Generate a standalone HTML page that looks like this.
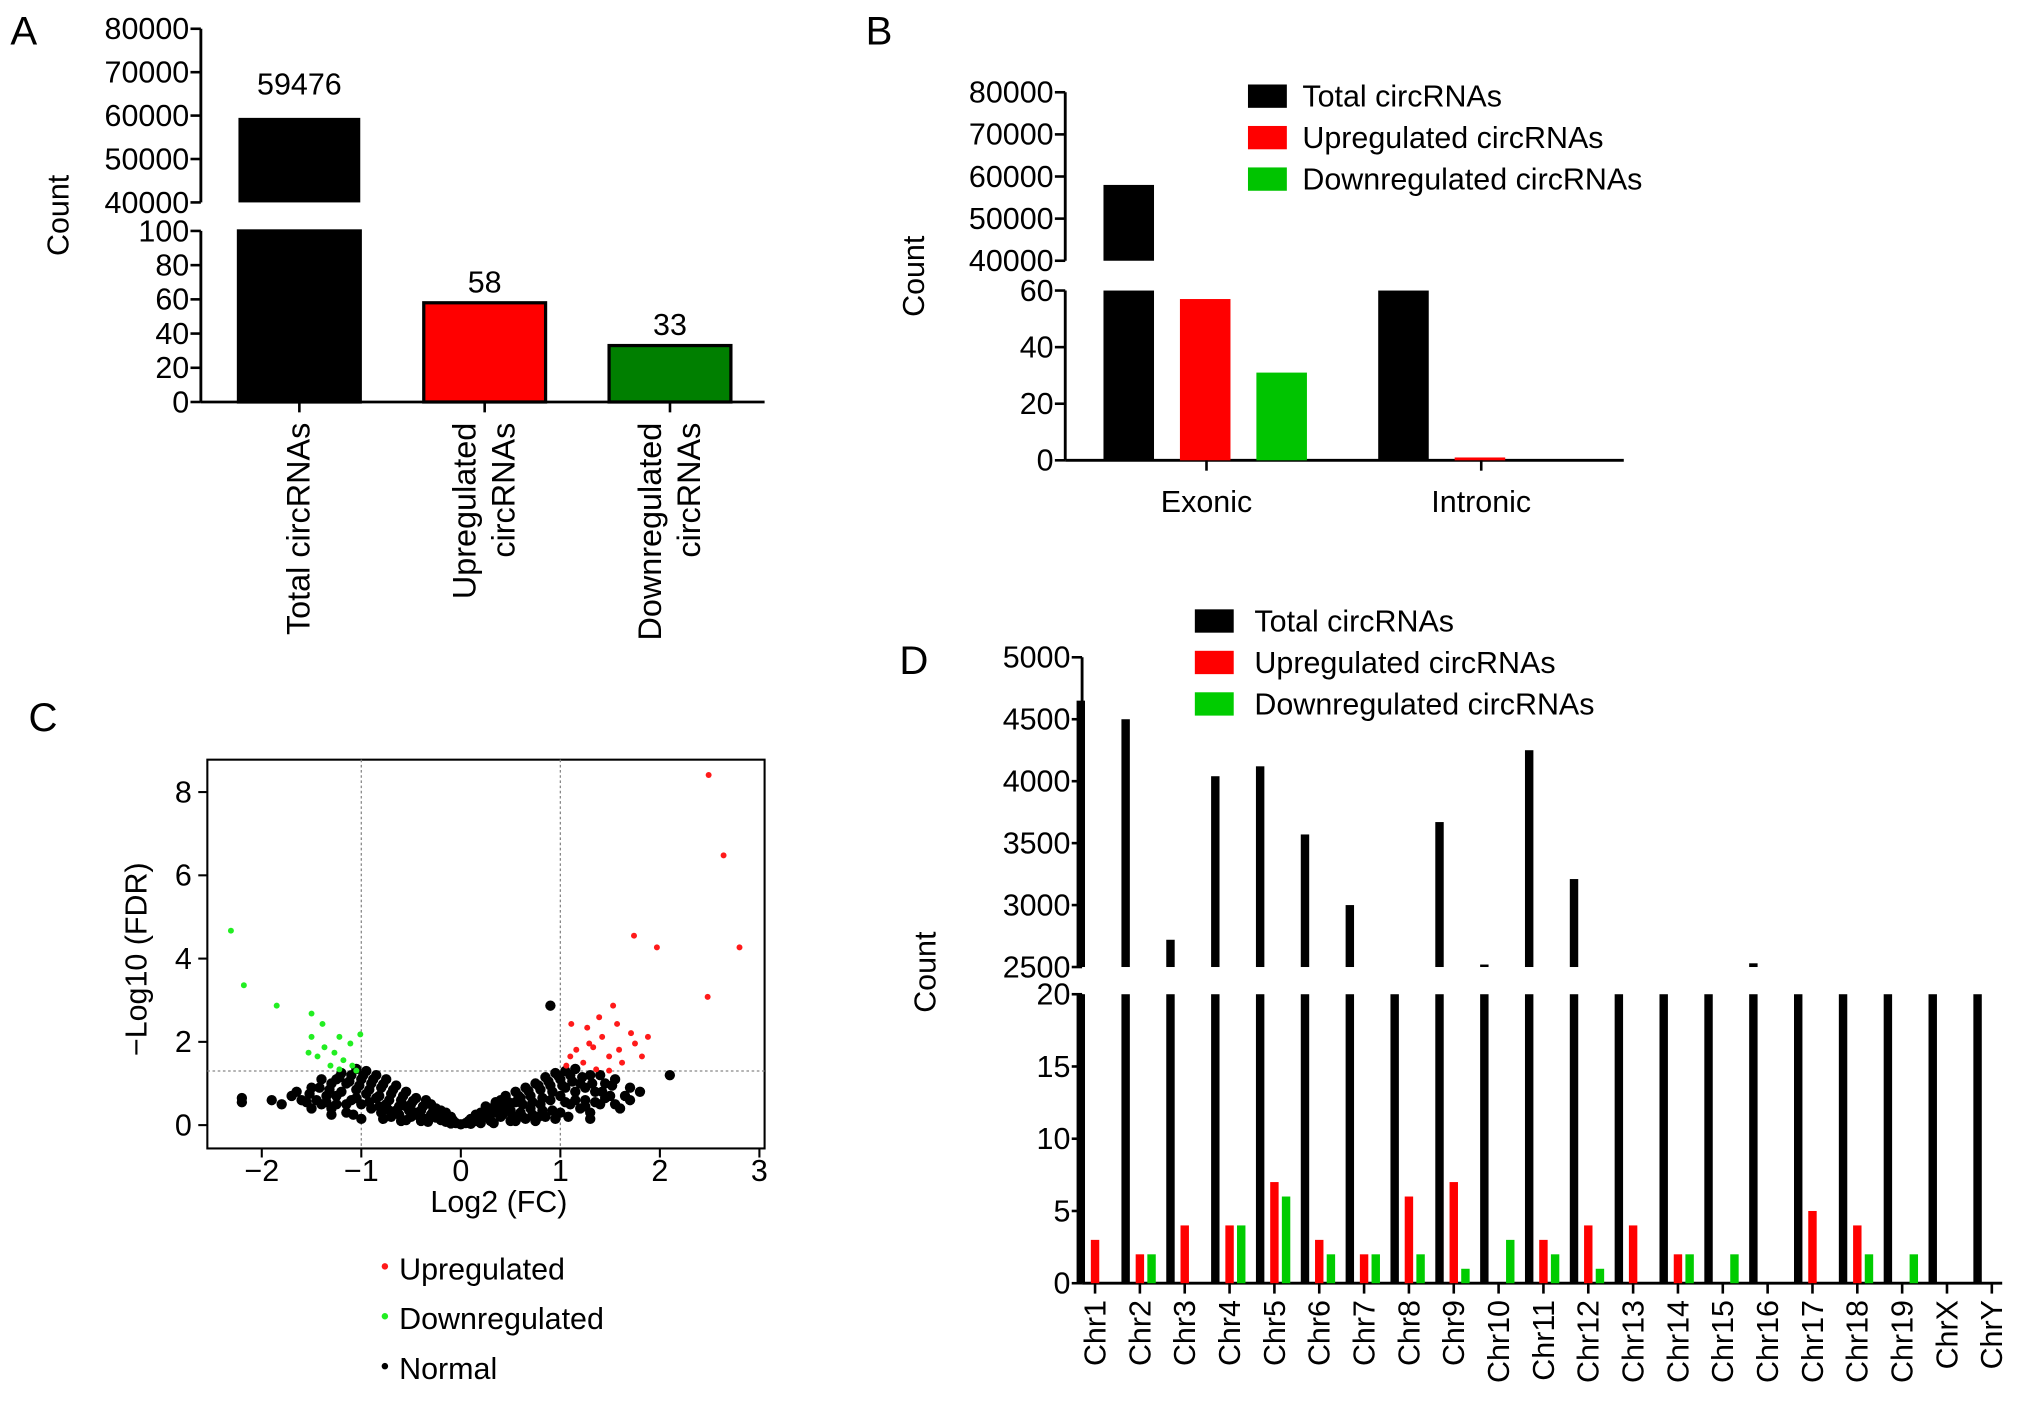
<!DOCTYPE html>
<html><head><meta charset="utf-8"><style>
html,body{margin:0;padding:0;background:#fff;}
svg{display:block;font-family:"Liberation Sans",Arial,sans-serif;}
</style></head><body>
<svg id="fig" width="2032" height="1404" viewBox="0 0 1568 1083" xmlns="http://www.w3.org/2000/svg">
<g font-size="31" fill="#000">
<text x="8" y="34">A</text>
<text x="668" y="34">B</text>
<text x="22" y="564">C</text>
<text x="694" y="520">D</text>
</g>
<g id="pa"></g>
<g id="pb"></g>
<g id="pc"></g>
<g id="pd"></g>
</svg>
<script>
// ---------- Panel A data ----------
const aCategories = [["Total circRNAs"],["Upregulated","circRNAs"],["Downregulated","circRNAs"]];
const aValues = [59476, 58, 33];
const aColors = ["#000000","#ff0000","#007f00"];
const aUpperTicks = [40000,50000,60000,70000,80000];
const aLowerTicks = [0,20,40,60,80,100];
// ---------- Panel B data ----------
const bCategories = ["Exonic","Intronic"];
const bTotal = [58000, 62];
const bUp = [57, 1];
const bDown = [31, 0];
const bUpperTicks = [40000,50000,60000,70000,80000];
const bLowerTicks = [0,20,40,60];
const seriesNames = ["Total circRNAs","Upregulated circRNAs","Downregulated circRNAs"];
// ---------- Panel C data ----------
const cXTicks = [-2,-1,0,1,2,3];
const cYTicks = [0,2,4,6,8];
const cUp = [[2.49,8.41],[2.64,6.48],[2.80,4.27],[1.74,4.55],[1.97,4.27],[2.48,3.08],[1.53,2.87],[1.39,2.59],[1.27,2.34],[1.11,2.43],[1.88,2.12],[1.75,1.96],[1.59,1.81],[1.42,2.12],[1.29,1.96],[1.16,1.81],[1.10,1.65],[1.49,1.65],[1.62,1.50],[1.82,1.65],[1.06,1.43],[1.23,1.50],[1.36,1.34],[1.49,1.31],[1.71,2.21],[1.57,2.43],[1.33,1.87]];
const cDown = [[-2.31,4.67],[-2.18,3.36],[-1.85,2.87],[-1.5,2.68],[-1.39,2.43],[-1.01,2.18],[-1.22,2.12],[-1.5,2.12],[-1.11,1.96],[-1.37,1.87],[-1.27,1.74],[-1.44,1.65],[-1.18,1.56],[-1.31,1.43],[-1.09,1.43],[-1.22,1.34],[-1.05,1.31],[-1.53,1.74]];
const cNormal = [[0,0.02],[0.05,0.05],[-0.05,0.05],[0.1,0.03],[-0.1,0.04],[0.15,0.1],[-0.15,0.08],[0.2,0.05],[-0.2,0.12],[0.25,0.2],[-0.25,0.18],[0.3,0.1],[-0.3,0.25],[0.35,0.3],[-0.35,0.15],[0.4,0.2],[-0.4,0.35],[0.45,0.45],[-0.45,0.3],[0.5,0.1],[-0.5,0.5],[0.5,0.35],[-0.5,0.2],[0.55,0.55],[-0.55,0.45],[0.6,0.3],[-0.6,0.6],[0.6,0.65],[-0.6,0.1],[0.65,0.15],[-0.65,0.35],[0.7,0.7],[-0.7,0.75],[0.7,0.4],[-0.7,0.2],[0.75,0.1],[-0.75,0.5],[0.8,0.85],[-0.8,0.9],[0.8,0.5],[-0.8,0.3],[0.85,0.2],[-0.85,0.65],[0.9,0.95],[-0.9,1.0],[0.9,0.6],[-0.9,0.4],[0.95,0.15],[-0.95,0.75],[1.0,1.1],[-1.0,1.1],[1.0,0.7],[-1.0,0.5],[1.0,0.3],[-1.0,0.15],[1.05,0.9],[-1.05,0.85],[1.1,1.2],[-1.1,1.2],[1.1,0.5],[-1.1,0.6],[1.15,0.8],[-1.15,0.3],[1.2,1.0],[-1.2,1.25],[1.2,0.4],[-1.2,0.8],[1.25,0.6],[-1.25,0.5],[1.3,1.2],[-1.3,1.0],[1.3,0.3],[-1.3,0.4],[1.35,0.8],[-1.35,0.7],[1.4,0.5],[-1.4,0.5],[1.45,1.0],[-1.5,0.9],[1.5,0.7],[-1.6,0.6],[1.6,0.4],[-1.7,0.7],[1.7,0.9],[-1.9,0.6],[2.1,1.2],[-2.2,0.65],[-2.2,0.55],[0.9,2.87],[0.3,0.4],[-0.3,0.5],[0.4,0.6],[-0.4,0.1],[0.2,0.3],[-0.2,0.35],[0.1,0.15],[-0.1,0.2],[0.65,0.9],[-0.65,0.95],[0.75,1.0],[-0.75,1.1],[0.85,1.15],[-0.85,1.2],[0.95,1.25],[-0.95,1.3],[1.05,1.3],[-1.05,1.35],[1.15,1.35],[-1.15,1.0],[0.55,0.8],[-0.55,0.8],[0.45,0.7],[-0.45,0.65],[1.25,0.9],[-1.25,1.1],[1.4,1.2],[-1.4,1.1],[1.55,1.1],[-1.5,0.4],[1.65,0.7],[0.35,0.55],[-0.35,0.6],[0.25,0.45],[-0.25,0.4],[0.15,0.25],[-0.15,0.3],
[0.08,0.1],[-0.08,0.12],[0.18,0.18],[-0.18,0.2],[0.28,0.3],[-0.28,0.32],[0.38,0.42],[-0.38,0.45],[0.48,0.55],[-0.48,0.58],[0.58,0.7],[-0.58,0.7],[0.68,0.82],[-0.68,0.85],[0.78,0.95],[-0.78,0.98],[0.88,1.05],[-0.88,1.1],[0.98,1.18],[-0.98,1.2],[0.62,0.5],[-0.62,0.45],[0.72,0.55],[-0.72,0.6],[0.82,0.65],[-0.82,0.7],[0.92,0.8],[-0.92,0.85],[1.02,0.95],[-1.02,0.95],[1.12,1.05],[-1.12,1.05],[1.22,1.15],[-1.22,1.15],[1.32,1.0],[-1.32,0.85],[1.42,0.8],[-1.42,0.9],[1.52,0.95],[-1.52,0.75],[0.42,0.25],[-0.42,0.22],[0.52,0.22],[-0.52,0.35],[0.62,0.2],[-0.62,0.25],[0.72,0.25],[-0.72,0.35],[0.82,0.35],[-0.82,0.45],[0.92,0.35],[-0.92,0.55],[1.05,0.55],[-1.05,0.65],[1.15,0.6],[-1.15,0.5],[1.25,0.45],[-1.25,0.7],[1.35,0.55],[-1.35,0.55],[1.45,0.65],[-1.45,0.6],[1.55,0.5],[-1.55,0.55],[1.7,0.6],[-1.65,0.8],[1.8,0.8],[-1.8,0.5],[0.33,0.05],[-0.33,0.08],[0.55,0.1],[-0.55,0.12],[0.78,0.2],[-0.78,0.15],[1.08,0.2],[-1.08,0.25],[1.3,0.15],[-1.3,0.25]];
// ---------- Panel D data ----------
const dCategories = ["Chr1","Chr2","Chr3","Chr4","Chr5","Chr6","Chr7","Chr8","Chr9","Chr10","Chr11","Chr12","Chr13","Chr14","Chr15","Chr16","Chr17","Chr18","Chr19","ChrX","ChrY"];
const dTotal = [4650,4500,2720,4040,4120,3570,3000,2000,3670,2520,4250,3210,1800,1900,1700,2530,1600,1500,1400,900,60];
const dUp = [3,2,4,4,7,3,2,6,7,0,3,4,4,2,0,0,5,4,0,0,0];
const dDown = [0,2,0,4,6,2,2,2,1,3,2,1,0,2,2,0,0,2,2,0,0];
const dUpperTicks = [2500,3000,3500,4000,4500,5000];
const dLowerTicks = [0,5,10,15,20];

const NS="http://www.w3.org/2000/svg";
const FS=23.5;
function mk(parent,tag,attrs,text){const e=document.createElementNS(NS,tag);for(const k in attrs)e.setAttribute(k,attrs[k]);if(text!==undefined)e.textContent=text;parent.appendChild(e);return e;}
function scale(d0,d1,r0,r1){return v=>r0+(v-d0)*(r1-r0)/(d1-d0);}

function brokenAxis(g,ax,lower,upper,lowTicks,upTicks,xEnd,fs){
  let l=mk(g,'line',{x1:ax,y1:lower.r0,x2:ax,y2:lower.r1,stroke:'#000','stroke-width':2.2});
  
  let u=mk(g,'line',{x1:ax,y1:upper.r0,x2:ax,y2:upper.r1,stroke:'#000','stroke-width':2.2});
  
  lowTicks.forEach(t=>{const y=lower.s(t);mk(g,'line',{x1:ax-8,y1:y,x2:ax,y2:y,stroke:'#000','stroke-width':2});
    const tx=mk(g,'text',{x:ax-9,y:y+8,'text-anchor':'end','font-size':fs},String(t));
    });
  upTicks.forEach(t=>{const y=upper.s(t);mk(g,'line',{x1:ax-8,y1:y,x2:ax,y2:y,stroke:'#000','stroke-width':2});
    const tx=mk(g,'text',{x:ax-9,y:y+8,'text-anchor':'end','font-size':fs},String(t));
    });
  const xa=mk(g,'line',{x1:ax,y1:lower.r0,x2:xEnd,y2:lower.r0,stroke:'#000','stroke-width':2.2});
  
}

// ---------- Panel A ----------
(function(){
  const g=document.getElementById('pa');
  const lo={r0:310,r1:178,s:scale(0,100,310,178)};
  const up={r0:156,r1:22,s:scale(40000,80000,156,22)};
  brokenAxis(g,155,lo,up,aLowerTicks,aUpperTicks,590,FS);
  const centers=[231,374,517],bw=94;
  aValues.forEach((v,i)=>{
    const x=centers[i]-bw/2;
    const top=Math.min(v,100);
    const r=mk(g,'rect',{x:x,y:lo.s(top),width:bw,height:310-lo.s(top),fill:aColors[i],stroke:'#000','stroke-width':2.5});
    
    let labelY=lo.s(v)-8;
    if(v>100){const r2=mk(g,'rect',{x:x,y:up.s(v),width:bw,height:156-up.s(v),fill:aColors[i]});
      labelY=up.s(v)-18;}
    const t=mk(g,'text',{x:centers[i],y:labelY,'text-anchor':'middle','font-size':FS},String(v));
    
    mk(g,'line',{x1:centers[i],y1:310,x2:centers[i],y2:318,stroke:'#000','stroke-width':2});
    const lines=aCategories[i];
    lines.forEach((s,j)=>{
      const xx=centers[i]+8+(j-(lines.length-1))*30+(lines.length>1?15:0);
      const tt=mk(g,'text',{x:0,y:0,'text-anchor':'end','font-size':25,transform:`translate(${xx},${326}) rotate(-90)`},s);
      
    });
  });
  const c=mk(g,'text',{x:0,y:0,'text-anchor':'middle','font-size':FS,transform:'translate(53,166) rotate(-90)'},'Count');
  
})();

// ---------- Panel B ----------
(function(){
  const g=document.getElementById('pb');
  const lo={r0:355,r1:224,s:scale(0,60,355,224)};
  const up={r0:201,r1:71,s:scale(40000,80000,201,71)};
  brokenAxis(g,822,lo,up,bLowerTicks,bUpperTicks,1253,FS);
  const centers=[931,1143],bw=39;
  const series=[bTotal,bUp,bDown],cols=['#000','#ff0000','#00c400'],offs=[-60,-1,58];
  bCategories.forEach((cat,i)=>{
    series.forEach((arr,k)=>{
      const v=arr[i]; if(v<=0) return;
      const x=centers[i]+offs[k]-bw/2;
      const top=Math.min(v,60);
      const r=mk(g,'rect',{x:x,y:lo.s(top),width:bw,height:355-lo.s(top),fill:cols[k]});
      
      if(v>=40000){const r2=mk(g,'rect',{x:x,y:up.s(v),width:bw,height:201-up.s(v),fill:cols[k]});
        }
    });
    mk(g,'line',{x1:centers[i],y1:355,x2:centers[i],y2:363,stroke:'#000','stroke-width':2});
    const t=mk(g,'text',{x:centers[i],y:395,'text-anchor':'middle','font-size':FS},cat);
    
  });
  seriesNames.forEach((n,k)=>{
    const y=74+k*32;
    const s=mk(g,'rect',{x:963,y:y-9,width:30,height:18,fill:cols[k]});
    
    const t=mk(g,'text',{x:1005,y:y+8,'font-size':FS},n);
    
  });
  const c=mk(g,'text',{x:0,y:0,'text-anchor':'middle','font-size':FS,transform:'translate(713,213) rotate(-90)'},'Count');
  
})();

// ---------- Panel C ----------
(function(){
  const g=document.getElementById('pc');
  const X=scale(0,1,355.6,432.4), Y=scale(0,8,868,611);
  const box=mk(g,'rect',{x:160,y:586,width:430,height:300,fill:'none',stroke:'#000','stroke-width':1.6});
  
  [-1,1].forEach(v=>{mk(g,'line',{x1:X(v),y1:586,x2:X(v),y2:886,stroke:'#888','stroke-width':1,'stroke-dasharray':'2,2'});});
  mk(g,'line',{x1:160,y1:Y(1.3),x2:590,y2:Y(1.3),stroke:'#888','stroke-width':1,'stroke-dasharray':'2,2'});
  cXTicks.forEach(t=>{const x=X(t);mk(g,'line',{x1:x,y1:886,x2:x,y2:893,stroke:'#000','stroke-width':1.6});
    const tx=mk(g,'text',{x:x,y:911,'text-anchor':'middle','font-size':FS},(t<0?'\u2212':'')+Math.abs(t));
    });
  cYTicks.forEach(t=>{const y=Y(t);mk(g,'line',{x1:153,y1:y,x2:160,y2:y,stroke:'#000','stroke-width':1.6});
    const tx=mk(g,'text',{x:148,y:y+8,'text-anchor':'end','font-size':FS},String(t));
    });
  cNormal.forEach(p=>{const d=mk(g,'circle',{cx:X(p[0]),cy:Y(p[1]),r:4,fill:'#000'});
    });
  cDown.forEach(p=>{const d=mk(g,'circle',{cx:X(p[0]),cy:Y(p[1]),r:2.3,fill:'#22ee22'});
    });
  cUp.forEach(p=>{const d=mk(g,'circle',{cx:X(p[0]),cy:Y(p[1]),r:2.3,fill:'#ff1a1a'});
    });
  const xl=mk(g,'text',{x:385,y:935,'text-anchor':'middle','font-size':FS},'Log2 (FC)');
  
  const yl=mk(g,'text',{x:0,y:0,'text-anchor':'middle','font-size':FS,transform:'translate(113,740) rotate(-90)'},'\u2212Log10 (FDR)');
  
  [['Upregulated','#ff1a1a'],['Downregulated','#22ee22'],['Normal','#000']].forEach((e,k)=>{
    const y=979+k*38.5;
    mk(g,'circle',{cx:297,cy:y-2,r:2.5,fill:e[1]});
    const t=mk(g,'text',{x:308,y:y+8,'font-size':FS},e[0]);
    
  });
})();

// ---------- Panel D ----------
(function(){
  const g=document.getElementById('pd');
  const lo={r0:990,r1:767,s:scale(0,20,990,767)};
  const up={r0:746,r1:507,s:scale(2500,5000,746,507)};
  brokenAxis(g,835,lo,up,dLowerTicks,dUpperTicks,1545,FS);
  const step=(1537-845)/20, bw=6.5;
  dCategories.forEach((cat,i)=>{
    const c=845+i*step;
    const vals=[dTotal[i],dUp[i],dDown[i]],cols=['#000','#ff0000','#00cc00'],offs=[-11,0,9];
    vals.forEach((v,k)=>{
      if(v<=0) return;
      const x=c+offs[k]-bw/2, top=Math.min(v,20);
      const r=mk(g,'rect',{x:x,y:lo.s(top),width:bw,height:990-lo.s(top),fill:cols[k]});
      
      if(v>2500){const r2=mk(g,'rect',{x:x,y:up.s(v),width:bw,height:746-up.s(v),fill:cols[k]});
        }
    });
    mk(g,'line',{x1:c,y1:990,x2:c,y2:998,stroke:'#000','stroke-width':2});
    const t=mk(g,'text',{x:0,y:0,'text-anchor':'end','font-size':FS,transform:`translate(${c+8},${1003}) rotate(-90)`},cat);
    
  });
  const cols=['#000','#ff0000','#00cc00'];
  seriesNames.forEach((n,k)=>{
    const y=479+k*32;
    const s=mk(g,'rect',{x:922,y:y-9,width:30,height:18,fill:cols[k]});
    
    const t=mk(g,'text',{x:968,y:y+8,'font-size':FS},n);
    
  });
  const c=mk(g,'text',{x:0,y:0,'text-anchor':'middle','font-size':FS,transform:'translate(722,750) rotate(-90)'},'Count');
  
})();
</script>
</body></html>
